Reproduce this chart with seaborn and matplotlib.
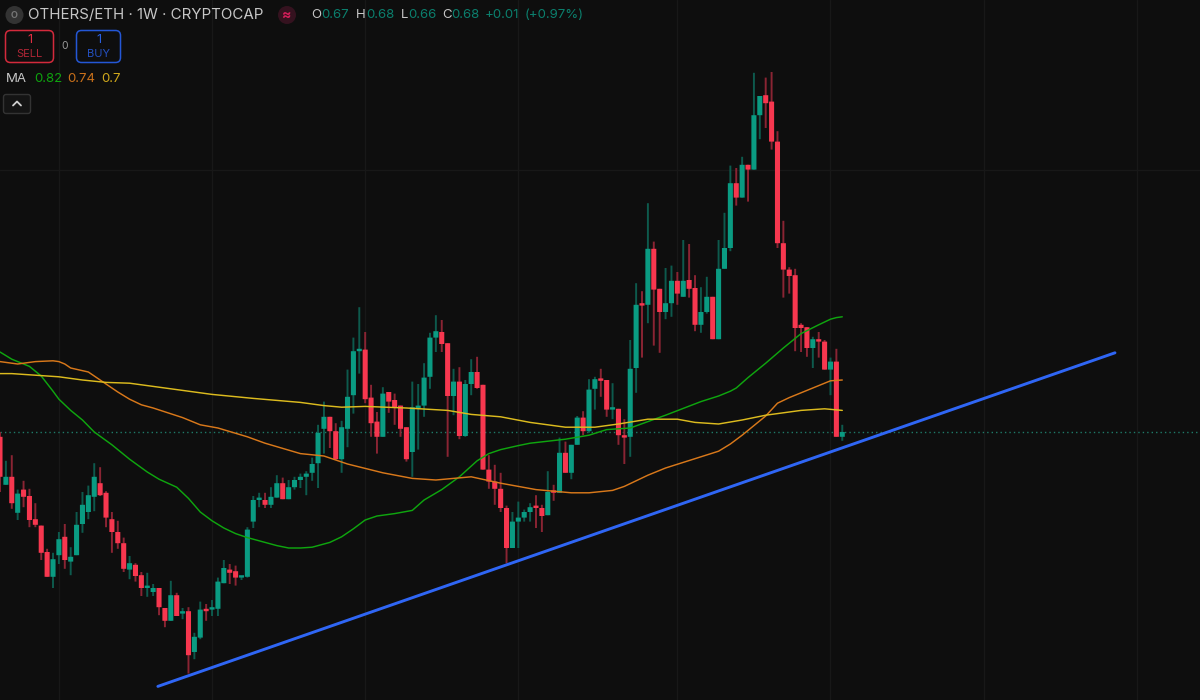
import numpy as np
import pandas as pd
import matplotlib
matplotlib.use("Agg")
import matplotlib.pyplot as plt
from matplotlib.patches import FancyBboxPatch, Circle
import seaborn as sns

# weekly OHLC in thousandths of the ratio
opens = [674,614,624,579,608,600,571,563,530,499,526,549,518,526,565,580,599,616,604,571,
         555,541,508,514,501,485,480,485,460,444,476,453,456,405,423,459,458,459,491,508,
         506,498,499,568,595,595,589,598,616,596,611,620,624,629,641,684,699,681,646,684,
         726,781,783,723,693,674,730,720,713,686,655,710,713,749,798,805,791,725,743,675,
         740,755,739,633,618,609,585,535,568,573,580,588,585,576,606,604,654,629,664,698,
         681,734,746,745,708,709,676,674,760,840,839,909,859,830,841,869,849,870,860,814,
         830,849,796,884,910,991,973,1014,1008,1076,1101,1093,1043,916,883,876,814,811,785,796,
         793,758,768,674]
highs = [680,644,651,608,619,609,591,563,534,529,555,565,536,580,605,613,641,636,606,580,
         569,548,525,516,505,504,490,485,460,494,479,460,461,429,468,465,470,498,520,515,
         513,500,561,600,604,604,611,626,623,620,624,628,631,648,689,718,699,691,694,758,
         798,836,805,739,705,736,730,728,713,686,743,740,766,804,826,820,791,759,761,745,
         771,774,739,651,639,629,588,580,593,583,591,601,589,631,614,673,668,664,700,706,
         746,749,759,745,741,709,696,795,866,856,966,918,859,885,888,880,920,915,876,861,
         874,849,920,954,1013,1010,1024,1014,1129,1100,1123,1130,1056,944,886,884,816,811,799,805,
         795,773,784,689]
lows = [605,614,584,570,586,561,561,520,499,485,515,509,501,526,554,571,581,600,561,529,
        534,505,496,493,475,474,475,451,436,444,450,446,378,396,421,444,450,450,491,490,
        488,495,498,560,586,585,585,598,596,596,608,610,601,619,610,653,660,645,629,661,
        703,753,716,674,653,674,704,689,674,643,624,658,699,734,780,780,649,701,671,674,
        726,734,633,609,589,580,516,535,535,568,568,560,555,576,594,604,629,621,664,676,
        679,708,724,699,696,664,640,649,729,773,816,788,779,821,824,839,849,848,806,804,
        828,796,796,884,906,963,973,968,1008,1046,1060,1033,910,848,853,781,780,774,760,773,
        758,726,674,669]
closes = [624,624,591,603,599,570,564,529,499,521,546,520,524,564,589,601,624,601,573,555,
          541,509,516,500,485,486,485,461,444,476,450,455,401,424,458,456,460,493,510,504,
          498,500,558,595,596,589,599,616,596,611,620,624,628,640,679,699,681,646,686,724,
          781,784,721,691,674,728,718,711,684,646,711,713,748,798,806,790,725,743,675,740,
          755,735,633,618,609,585,535,568,573,580,586,585,575,605,604,654,629,664,698,681,
          733,746,744,708,710,676,673,759,839,838,909,858,830,841,869,853,869,859,814,830,
          849,796,884,910,991,973,1014,1008,1076,1100,1091,1043,916,883,875,810,810,785,796,793,
          758,768,674,680]

ma_fast_weeks = [0,2,4,5,7,9,10,12,14,16,19,22,25,27,30,32,34,36,38,40,42,44,47,49,51,53,56,58,60,62,64,67,70,72,75,78,81,83,85,88,90,96,100,103,107,113,119,122,124,125,127,130,133,136,139,141,142,143]
ma_fast = [780,771,765,762,750,731,721,707,695,680,664,646,630,621,611,597,580,569,560,553,548,544,538,535,535,536,542,549,559,570,575,578,582,595,608,624,644,653,658,663,666,671,676,683,685,701,718,725,731,735,748,766,785,803,814,821,823,824]
ma_mid_weeks = [0,3,6,9,10,11,12,15,18,20,22,24,26,31,34,37,42,45,51,55,59,65,70,74,80,85,91,97,100,104,106,110,113,116,119,122,124,126,128,130,132,134,136,139,141,143]
ma_mid = [768,765,768,769,768,765,760,755,740,730,721,714,710,698,689,685,674,666,653,650,640,629,622,620,624,616,608,604,604,607,612,626,635,642,649,656,665,676,688,700,716,723,729,738,744,745]
ma_slow_weeks = [0,2,6,10,14,18,22,27,32,36,43,51,55,58,62,69,76,80,85,90,96,101,105,110,115,118,122,126,130,136,140,143]
ma_slow = [753,753,751,749,745,742,741,736,731,727,722,717,713,711,712,710,707,702,699,692,686,686,690,696,696,692,690,695,701,707,709,707]
trend_weeks = [26.8, 189.3]
trend_vals = [362, 779]
last_close = 680
grid_weeks = [10, 36, 62, 88, 115, 141, 167, 193]
grid_level = 1007

BG = "#0e0e0e"
UP, DOWN = "#0a9b82", "#f7374f"
UP_W, DOWN_W = "#0d5a4d", "#8a2433"
GRID = "#181818"

sns.set_theme(style="dark", rc={"axes.facecolor": BG, "figure.facecolor": BG})
plt.rcParams["font.family"] = ["Inter", "DejaVu Sans"]

df = pd.DataFrame({"week": np.arange(len(opens)), "o": opens, "h": highs, "l": lows, "c": closes})
df[["o", "h", "l", "c"]] /= 1000.0
df["up"] = df.c >= df.o

fig = plt.figure(figsize=(12, 7), dpi=100)
ax = fig.add_axes([0, 0, 1, 1])
ax.set_xlim(0, 1200 / 5.89)
ax.set_ylim(0.345, 1.22)

for w in grid_weeks:
    ax.axvline(w, color=GRID, lw=1, zorder=0)
ax.axhline(grid_level / 1000, color=GRID, lw=1, zorder=0)

wicks = ax.vlines(df.week, df.l, df.h, colors=np.where(df.up, UP_W, DOWN_W), lw=1.4, zorder=2)
wicks.set_snap(False)
body_h = (df.c - df.o).abs().clip(lower=0.003)
bars = ax.bar(df.week, body_h, bottom=df[["o", "c"]].min(axis=1), width=0.86,
              color=np.where(df.up, UP, DOWN), linewidth=0, zorder=3)
for b in bars:
    b.set_snap(False)

ax.axhline(last_close / 1000, color="#1f7a68", lw=1, ls=(0, (1, 2.2)), zorder=1)

for wk, vals, col in [(ma_fast_weeks, ma_fast, "#0fa50f"),
                      (ma_mid_weeks, ma_mid, "#d8781a"),
                      (ma_slow_weeks, ma_slow, "#dcbb1e")]:
    sns.lineplot(x=wk, y=np.array(vals) / 1000, color=col, lw=1.05, ax=ax, zorder=4,
                 estimator=None, sort=False)
sns.lineplot(x=trend_weeks, y=np.array(trend_vals) / 1000, color="#2f66f5", lw=2.1, ax=ax,
             zorder=5, estimator=None, sort=False)
ax.set_xlabel(""); ax.set_ylabel("")
ax.set_xticks([]); ax.set_yticks([])
for s in ax.spines.values():
    s.set_visible(False)

# header overlay, measured in screen pixels
ui = fig.add_axes([0, 0, 1, 1], facecolor="none")
ui.set_xlim(0, 1200); ui.set_ylim(700, 0); ui.axis("off")
def t(x, y, s, c, fs=9.5, ha="left", **kw):
    ui.text(x, y, s, color=c, fontsize=fs, ha=ha, va="center", **kw)

ui.add_patch(Circle((14.5, 15), 9, color="#333333", lw=0))
t(14.5, 15, "O", "#777777", 6.5, ha="center", fontweight="bold")
t(28, 15, "OTHERS/ETH · 1W · CRYPTOCAP", "#c6c6c6", 10.85)
ui.add_patch(Circle((287, 15), 9, color="#35121f", lw=0))
t(287, 15, "≈", "#d81e5b", 10, ha="center", fontweight="bold")
G = "#0b7f6d"
for x, s, c in [(311, "O", "#c6c6c6"), (321, "0.67", G), (356, "H", "#c6c6c6"), (366, "0.68", G),
                (401, "L", "#c6c6c6"), (408, "0.66", G), (442, "C", "#c6c6c6"), (451, "0.68", G),
                (485, "+0.01", G), (525, "(+0.97%)", G)]:
    t(x, 15, s, c)

ui.add_patch(FancyBboxPatch((5.5, 30.5), 48, 32, boxstyle="round,pad=0,rounding_size=5",
                            fc="none", ec="#d42a3c", lw=1.1))
t(29.5, 40, "1", "#e02e42", 9.2, ha="center")
t(29.5, 54, "SELL", "#b02636", 8, ha="center")
t(65, 46, "0", "#9a9a9a", 7.5, ha="center")
ui.add_patch(FancyBboxPatch((76.5, 30.5), 44, 32, boxstyle="round,pad=0,rounding_size=5",
                            fc="none", ec="#2457d6", lw=1.1))
t(98.5, 40, "1", "#2a5fe0", 9.2, ha="center")
t(98.5, 54, "BUY", "#2450c0", 8, ha="center")

t(6, 79.5, "MA", "#c6c6c6")
t(34, 79.5, "0.82", "#0fa30f")
t(67, 79.5, "0.74", "#c9701a")
t(101, 79.5, "0.7", "#d0a81c")

ui.add_patch(FancyBboxPatch((3.5, 94.5), 27, 19, boxstyle="round,pad=0,rounding_size=2.5",
                            fc="#141414", ec="#333333", lw=1))
ui.plot([13, 17, 21], [105.5, 101.5, 105.5], color="#d0d0d0", lw=1.3)

fig.savefig("out.png", dpi=100, facecolor=BG)
